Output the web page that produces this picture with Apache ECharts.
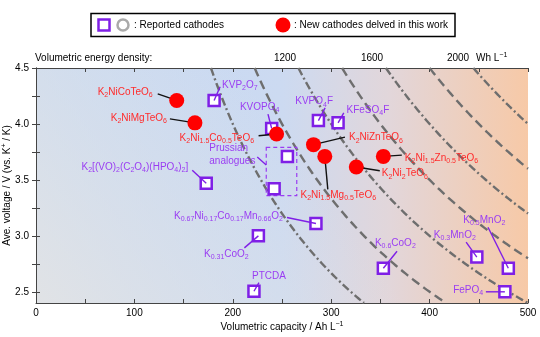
<!DOCTYPE html>
<html>
<head>
<meta charset="utf-8">
<script src="https://cdn.jsdelivr.net/npm/echarts@6/dist/echarts.min.js"></script>
<style>
  html, body { margin: 0; padding: 0; background: #fff; }
  #chart { width: 540px; height: 337px; }
</style>
</head>
<body>
<div id="chart"></div>
<script>
  // iso-energy density contours, Wh/L
  const energyLevels = [800, 1000, 1200, 1400, 1600, 1800, 2000]
  const energyTickLabels = ['1200', '1600', '2000']

  // new cathodes delved in this work
  const newNames = ['K_2NiCoTeO_6', 'K_2NiMgTeO_6', 'K_2Ni_1.5Co_0.5TeO_6', 'K_2NiZnTeO_6',
    'K_2Ni_1.5Mg_0.5TeO_6', 'K_2Ni_2TeO_6', 'K_2Ni_1.5Zn_0.5TeO_6']
  const newCapacity = [143, 161.5, 244.5, 282, 293.5, 325.5, 353]
  const newVoltage = [4.21, 4.01, 3.91, 3.815, 3.71, 3.615, 3.71]

  // reported cathodes ('' = prussian analogues, no own label)
  const repNames = ['KVP_2O_7', 'KVOPO_4', 'KVPO_4F', 'KFeSO_4F', '', '',
    'K_2[(VO)_2(C_2O_4)(HPO_4)_2]', 'K_0.67Ni_0.17Co_0.17Mn_0.66O_2', 'K_0.31CoO_2', 'PTCDA',
    'K_0.6CoO_2', 'K_0.3MnO_2', 'K_0.5MnO_2', 'FePO_4']
  const repCapacity = [181, 239.5, 287, 307, 255.5, 242, 173, 284.5, 226, 221.5, 353, 448, 480, 476.5]
  const repVoltage = [4.21, 3.96, 4.03, 4.01, 3.71, 3.42, 3.47, 3.11, 3.0, 2.505, 2.71, 2.81, 2.71, 2.5]

  // prussian analogues group
  const prussianCapacity = [234, 265]
  const prussianVoltage = [3.36, 3.79]

  const yTicks = [2.5, 2.75, 3.0, 3.25, 3.5, 3.75, 4.0, 4.25, 4.5]
  const yLabels = [2.5, 3.0, 3.5, 4.0, 4.5]

  const PURPLE = '#7f1fe6'
  const PURPLE_TXT = '#9a3df2'
  const RED = '#ff0000'
  const RED_TXT = '#ff2b2b'
  const FONT = 'Liberation Sans, Arial, Helvetica, sans-serif'

  // label placement, pixels relative to marker centre
  const newLayout = [
    {dx: -24, dy: -8, align: 'right', lx: -19, ly: -6.5},
    {dx: -28, dy: -4.5, align: 'right', lx: -25, ly: -4},
    {dx: -22.5, dy: 4, align: 'right', lx: -18, ly: 1.7},
    {dx: 35.5, dy: -7, align: 'left', lx: 31.5, ly: -7.5},
    {dx: 13.5, dy: 38.5, align: 'center', lx: 3, ly: 33},
    {dx: 25.5, dy: 6.7, align: 'left', lx: 23.5, ly: 3.7},
    {dx: 21.5, dy: 1.7, align: 'left', lx: 18.5, ly: -1.3}
  ]
  const repLayout = [
    {dx: 8, dy: -15.7, align: 'left', lx: 6, ly: -13.7},
    {dx: -12, dy: -21, align: 'center', lx: -3.7, ly: -14.3},
    {dx: -4.3, dy: -19, align: 'center', lx: 6.7, ly: -12.7},
    {dx: 8.4, dy: -13, align: 'left', lx: 5.7, ly: -10},
    null, null,
    {dx: -18, dy: -16, align: 'right', lx: -14, ly: -13},
    {dx: -33, dy: -7.7, align: 'right', lx: -29, ly: -6},
    {dx: -32, dy: 18.3, align: 'center', lx: -14, ly: 12},
    {dx: 15, dy: -15, align: 'center', lx: 5, ly: -8.7},
    {dx: 12, dy: -25, align: 'center', lx: 13.7, ly: -17},
    {dx: -22, dy: -22, align: 'center', lx: -10.7, ly: -15},
    {dx: -24, dy: -48, align: 'center', lx: -20.3, ly: -41},
    {dx: -21.7, dy: -1.7, align: 'right', lx: -19, ly: 0}
  ]

  function richName(name) {
    return name.split(/_([0-9.]+)/).map((s, i) => {
      if (s === '') return ''
      return i % 2 ? '{s|' + s + '}' : '{n|' + s + '}'
    }).join('')
  }
  function richStyles(color) {
    return {
      n: {fontSize: 10, fontFamily: FONT, fill: color},
      s: {fontSize: 7, fontFamily: FONT, fill: color, padding: [6, 0, 0, 0]},
      p: {fontSize: 7, fontFamily: FONT, fill: color, padding: [0, 0, 6, 0]}
    }
  }

  function labelSeries(names, cap, volt, layout, txtColor, lineColor, z) {
    return {
      type: 'custom',
      z: z,
      silent: true,
      data: cap.map((c, i) => [c, volt[i]]),
      renderItem(params, api) {
        const L = layout[params.dataIndex]
        if (!L) return
        const p = api.coord([api.value(0), api.value(1)])
        return {
          type: 'group',
          children: [{
            type: 'line',
            shape: {x1: p[0] + L.lx, y1: p[1] + L.ly, x2: p[0], y2: p[1]},
            style: {stroke: lineColor, lineWidth: 1.4}
          }, {
            type: 'text',
            x: p[0] + L.dx,
            y: p[1] + L.dy,
            style: {
              text: richName(names[params.dataIndex]),
              rich: richStyles(txtColor),
              fill: txtColor,
              fontSize: 10,
              fontFamily: FONT,
              align: L.align,
              verticalAlign: 'middle'
            }
          }]
        }
      }
    }
  }

  const chart = echarts.init(document.getElementById('chart'))

  chart.setOption({
    animation: false,
    textStyle: {fontFamily: FONT},
    grid: {left: 36, right: 12, top: 68, bottom: 34, outerBoundsMode: 'none', containLabel: false},
    xAxis: [{
      type: 'value',
      min: 0,
      max: 500,
      interval: 50,
      name: '{n|Volumetric capacity / Ah L}{p|\u22121}',
      nameLocation: 'middle',
      nameMoveOverlap: false,
      nameGap: 18,
      nameTextStyle: {
        rich: {
          n: {fontSize: 10, color: '#000', fontFamily: FONT},
          p: {fontSize: 7, color: '#000', fontFamily: FONT, padding: [0, 0, 6, 0]}
        }
      },
      axisLine: {show: true, lineStyle: {color: '#444', width: 1}},
      axisTick: {show: true, inside: true, length: 4, lineStyle: {color: '#444'}},
      axisLabel: {
        margin: 5, fontSize: 10, color: '#000',
        formatter: v => (v % 100 === 0 ? String(v) : '')
      },
      splitLine: {show: false}
    }, {
      type: 'value',
      position: 'top',
      min: 0,
      max: 500,
      interval: 50,
      axisLine: {show: true, lineStyle: {color: '#444', width: 1}},
      axisTick: {show: true, inside: true, length: 4, lineStyle: {color: '#444'}},
      axisLabel: {show: false},
      splitLine: {show: false}
    }],
    yAxis: [{
      type: 'value',
      min: 2.4,
      max: 4.5,
      name: '{n|Ave. voltage / V (vs. K}{p|+}{n| / K)}',
      nameLocation: 'middle',
      nameMoveOverlap: false,
      nameGap: 22,
      nameTextStyle: {
        rich: {
          n: {fontSize: 10, color: '#000', fontFamily: FONT},
          p: {fontSize: 7, color: '#000', fontFamily: FONT, padding: [0, 0, 6, 0]}
        }
      },
      axisLine: {show: true, lineStyle: {color: '#444', width: 1}},
      axisTick: {show: true, inside: true, length: 4, customValues: yTicks, lineStyle: {color: '#444'}},
      axisLabel: {
        margin: 7, fontSize: 10, color: '#000',
        customValues: yLabels,
        formatter: v => v.toFixed(1)
      },
      splitLine: {show: false}
    }, {
      type: 'value',
      position: 'right',
      min: 2.4,
      max: 4.5,
      axisLine: {show: true, lineStyle: {color: '#444', width: 1}},
      axisTick: {show: true, inside: true, length: 4, customValues: yTicks, lineStyle: {color: '#444'}},
      axisLabel: {show: false},
      splitLine: {show: false}
    }],
    graphic: [
      // plot background
      {
        type: 'rect', z: -2, silent: true,
        shape: {x: 36, y: 68, width: 492, height: 235},
        style: {
          fill: {
            type: 'linear', x: 0, y: 0, x2: 1, y2: 0,
            colorStops: [
              {offset: 0, color: '#c4d8f4'},
              {offset: 0.5, color: '#ccdaf1'},
              {offset: 0.72, color: '#e2d6da'},
              {offset: 1, color: '#f7c9a7'}
            ]
          }
        }
      },
      {
        type: 'rect', z: -1, silent: true,
        shape: {x: 36, y: 68, width: 492, height: 235},
        style: {
          fill: {
            type: 'linear', x: 0, y: 1, x2: 0.5, y2: 0.25,
            colorStops: [
              {offset: 0, color: 'rgba(228,228,228,0.9)'},
              {offset: 1, color: 'rgba(228,228,228,0)'}
            ]
          }
        }
      },
      // legend box
      {
        type: 'rect', shape: {x: 91, y: 13.5, width: 364, height: 23},
        style: {fill: '#fff', stroke: '#000', lineWidth: 1.5}
      },
      {
        type: 'rect', shape: {x: 98.5, y: 19.5, width: 11, height: 11},
        style: {fill: '#fff', stroke: PURPLE, lineWidth: 2.5}
      },
      {
        type: 'circle', shape: {cx: 123, cy: 25, r: 5.5},
        style: {fill: '#fff', stroke: '#aaaaaa', lineWidth: 2.5}
      },
      {
        type: 'text', x: 134, y: 25,
        style: {text: ': Reported cathodes', fontSize: 10, fontFamily: FONT, fill: '#000', verticalAlign: 'middle'}
      },
      {
        type: 'circle', shape: {cx: 283, cy: 25, r: 7.5},
        style: {fill: RED}
      },
      {
        type: 'text', x: 294, y: 25,
        style: {text: ': New cathodes delved in this work', fontSize: 10, fontFamily: FONT, fill: '#000', verticalAlign: 'middle'}
      },
      // top energy scale
      {
        type: 'text', x: 35, y: 58,
        style: {text: 'Volumetric energy density:', fontSize: 10, fontFamily: FONT, fill: '#000', verticalAlign: 'middle'}
      },
      ...energyTickLabels.map((t, i) => ({
        type: 'text', x: [285, 372, 458][i], y: 58,
        style: {text: t, fontSize: 10, fontFamily: FONT, fill: '#000', align: 'center', verticalAlign: 'middle'}
      })),
      {
        type: 'text', x: 476, y: 58,
        style: {
          text: '{n|Wh L}{p|\u22121}',
          rich: richStyles('#000'),
          verticalAlign: 'middle'
        }
      }
    ],
    series: [
      // energy contour lines
      {
        type: 'custom',
        z: 1,
        silent: true,
        data: energyLevels.map((e, i) => [e, i]),
        renderItem(params, api) {
          const e = api.value(0)
          const c0 = e / 4.5
          const c1 = Math.min(500, e / 2.4)
          const pts = []
          for (let k = 0; k <= 80; k++) {
            const c = c0 + (c1 - c0) * k / 80
            pts.push(api.coord([c, e / c]))
          }
          return {
            type: 'polyline',
            shape: {points: pts},
            style: {
              stroke: '#6e6e6e',
              lineWidth: 2.4,
              fill: null,
              lineDash: params.dataIndex % 2 ? [9, 5] : [8, 3, 2, 3]
            }
          }
        }
      },
      // prussian analogues box
      {
        type: 'custom',
        z: 2,
        silent: true,
        data: [[prussianCapacity[0], prussianVoltage[1], prussianCapacity[1], prussianVoltage[0]]],
        renderItem(params, api) {
          const a = api.coord([api.value(0), api.value(1)])
          const b = api.coord([api.value(2), api.value(3)])
          return {
            type: 'group',
            children: [{
              type: 'rect',
              shape: {x: a[0], y: a[1], width: b[0] - a[0], height: b[1] - a[1]},
              style: {fill: null, stroke: PURPLE_TXT, lineWidth: 1.2, lineDash: [4, 3]}
            }, {
              type: 'line',
              shape: {x1: a[0] - 9, y1: a[1] + 9.5, x2: a[0], y2: a[1] + 17.5},
              style: {stroke: PURPLE, lineWidth: 1.3}
            }, {
              type: 'text',
              x: a[0] - 57,
              y: a[1] + 7.5,
              style: {
                text: '{n|Prussian}\n{n|analogues}',
                rich: {n: {fontSize: 10, fontFamily: FONT, fill: PURPLE_TXT, lineHeight: 12.5}},
                align: 'left',
                verticalAlign: 'middle'
              }
            }]
          }
        }
      },
      {
        type: 'scatter',
        z: 3,
        silent: true,
        symbol: 'rect',
        symbolSize: 11,
        itemStyle: {color: '#fff', borderColor: PURPLE, borderWidth: 2.5, opacity: 1},
        data: repCapacity.map((c, i) => [c, repVoltage[i]])
      },
      labelSeries(repNames, repCapacity, repVoltage, repLayout, PURPLE_TXT, PURPLE, 4),
      labelSeries(newNames, newCapacity, newVoltage, newLayout, RED_TXT, '#111', 4),
      {
        type: 'scatter',
        z: 5,
        silent: true,
        symbol: 'circle',
        symbolSize: 15,
        itemStyle: {color: RED, opacity: 1},
        data: newCapacity.map((c, i) => [c, newVoltage[i]])
      }
    ]
  })
</script>
</body>
</html>
